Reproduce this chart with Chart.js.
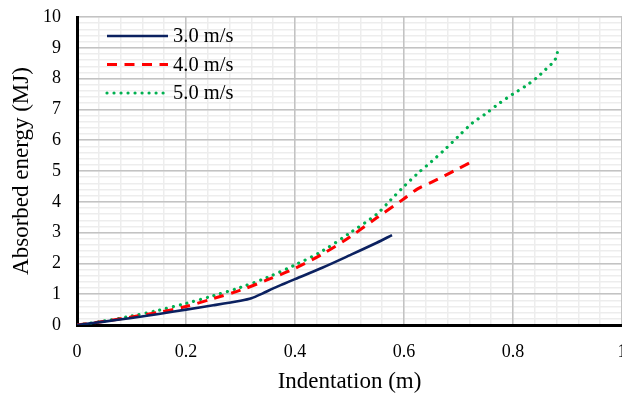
<!DOCTYPE html>
<html>
<head>
<meta charset="utf-8">
<script src="https://cdn.jsdelivr.net/npm/chart.js@4.4.1/dist/chart.umd.min.js"></script>
<style>
  html, body { margin: 0; padding: 0; background: #ffffff; overflow: hidden; }
  #wrap { width: 640px; height: 393px; }
</style>
</head>
<body>
<div id="wrap"><canvas id="c" width="640" height="393"></canvas></div>
<script>
// ---- data ----
const seriesLabels = ['3.0 m/s', '4.0 m/s', '5.0 m/s'];

const xBlue = [0, 0.05, 0.1, 0.15, 0.2, 0.25, 0.3, 0.32, 0.34, 0.36, 0.38, 0.4, 0.45, 0.5, 0.55, 0.578];
const yBlue = [0, 0.11, 0.23, 0.36, 0.5, 0.64, 0.79, 0.87, 1.02, 1.19, 1.34, 1.49, 1.86, 2.26, 2.67, 2.92];

const xRed = [0, 0.05, 0.1, 0.15, 0.2, 0.25, 0.3, 0.35, 0.4, 0.45, 0.5, 0.55, 0.6, 0.625, 0.65, 0.675, 0.7, 0.73];
const yRed = [0, 0.12, 0.26, 0.41, 0.6, 0.86, 1.13, 1.47, 1.84, 2.3, 2.85, 3.48, 4.1, 4.42, 4.63, 4.85, 5.08, 5.35];

const xGreen = [0, 0.05, 0.1, 0.15, 0.2, 0.25, 0.3, 0.35, 0.4, 0.45, 0.5, 0.55, 0.575, 0.6, 0.625, 0.65, 0.675, 0.7, 0.725, 0.75, 0.775, 0.8, 0.825, 0.845, 0.86, 0.875, 0.881, 0.881];
const yGreen = [0, 0.13, 0.29, 0.48, 0.7, 0.95, 1.22, 1.55, 1.95, 2.4, 2.98, 3.6, 4.05, 4.5, 4.92, 5.3, 5.7, 6.13, 6.55, 6.86, 7.2, 7.5, 7.78, 8.05, 8.3, 8.56, 8.77, 9.0];

const xTickLabels = ['0', '0.2', '0.4', '0.6', '0.8', '1'];
const yTickLabels = ['0', '1', '2', '3', '4', '5', '6', '7', '8', '9', '10'];
const xTitle = 'Indentation (m)';
const yTitle = 'Absorbed energy (MJ)';

// ---- build ----
const pts = (xs, ys) => xs.map((x, i) => ({ x: x, y: ys[i] }));
const FONT = "'Liberation Serif', 'Times New Roman', serif";
const MAJOR = '#c3c3c3';
const MINOR = '#ededed';

const legendPlugin = {
  id: 'insideLegend',
  afterDraw(chart) {
    const ctx = chart.ctx;
    const a = chart.chartArea;
    ctx.save();
    chart.data.datasets.forEach((ds, i) => {
      const y = a.top + 19 + i * 28.5;
      const x0 = a.left + 30, x1 = a.left + 91;
      ctx.beginPath();
      ctx.strokeStyle = ds.borderColor;
      ctx.lineWidth = ds.borderWidth;
      ctx.setLineDash(ds.borderDash || []);
      ctx.lineCap = ds.borderCapStyle || 'butt';
      ctx.moveTo(x0, y);
      ctx.lineTo(x1, y);
      ctx.stroke();
      ctx.setLineDash([]);
      ctx.fillStyle = '#000000';
      ctx.font = "20.5px " + FONT;
      ctx.textBaseline = 'middle';
      ctx.textAlign = 'left';
      ctx.fillText(ds.label, x1 + 5, y + 1);
    });
    ctx.restore();
  }
};

const fixPad = (s) => { s.paddingLeft = 0; s.paddingRight = 0; s.paddingTop = 0; s.paddingBottom = 0; };

new Chart(document.getElementById('c'), {
  type: 'line',
  data: {
    datasets: [
      { label: seriesLabels[0], data: pts(xBlue, yBlue), borderColor: '#0b2160', borderWidth: 2.6,
        borderDash: [], pointRadius: 0, tension: 0.3, fill: false },
      { label: seriesLabels[1], data: pts(xRed, yRed), borderColor: '#ff0000', borderWidth: 3,
        borderDash: [10, 7.5], pointRadius: 0, tension: 0.3, fill: false },
      { label: seriesLabels[2], data: pts(xGreen, yGreen), borderColor: '#00b050', borderWidth: 3.2,
        borderDash: [0.01, 7], borderCapStyle: 'round', pointRadius: 0, tension: 0.3, fill: false }
    ]
  },
  options: {
    responsive: false,
    animation: false,
    devicePixelRatio: 1,
    layout: { padding: { left: 0, right: 18, top: 17, bottom: 0 } },
    plugins: { legend: { display: false }, tooltip: { enabled: false } },
    scales: {
      xm: {
        type: 'linear', position: 'bottom', min: 0, max: 1, weight: 10,
        ticks: { display: false, stepSize: 0.04, autoSkip: false },
        grid: { color: MINOR, lineWidth: 1.5, drawTicks: false, z: -2 },
        border: { display: false },
        afterFit: (s) => { s.height = 0; fixPad(s); }
      },
      ym: {
        type: 'linear', position: 'left', min: 0, max: 10, weight: 10,
        ticks: { display: false, stepSize: 0.2, autoSkip: false },
        grid: { color: MINOR, lineWidth: 1.5, drawTicks: false, z: -2 },
        border: { display: false },
        afterFit: (s) => { s.width = 0; fixPad(s); }
      },
      x: {
        type: 'linear', position: 'bottom', min: 0, max: 1, weight: 0,
        ticks: {
          stepSize: 0.2, autoSkip: false, maxRotation: 0, color: '#000000', padding: 16,
          font: { family: FONT, size: 18 },
          callback: (v, i) => xTickLabels[i]
        },
        grid: { color: MAJOR, lineWidth: 1.5, drawTicks: false, z: -1 },
        border: { color: '#000000', width: 3 },
        title: { display: true, text: xTitle, color: '#000000',
          font: { family: FONT, size: 23, lineHeight: 1 }, padding: { top: 0, bottom: 0 } },
        afterFit: (s) => { s.height = 68; fixPad(s); }
      },
      y: {
        type: 'linear', position: 'left', min: 0, max: 10, weight: 0,
        ticks: {
          stepSize: 1, autoSkip: false, color: '#000000', padding: 16,
          font: { family: FONT, size: 18 },
          callback: (v, i) => yTickLabels[i]
        },
        grid: { color: MAJOR, lineWidth: 1.5, drawTicks: false, z: -1 },
        border: { color: '#000000', width: 3 },
        title: { display: true, text: yTitle, color: '#000000',
          font: { family: FONT, size: 23, lineHeight: 1 }, padding: { top: 10, bottom: 0 } },
        afterFit: (s) => { s.width = 77; fixPad(s); }
      }
    }
  },
  plugins: [legendPlugin]
});
</script>
</body>
</html>
